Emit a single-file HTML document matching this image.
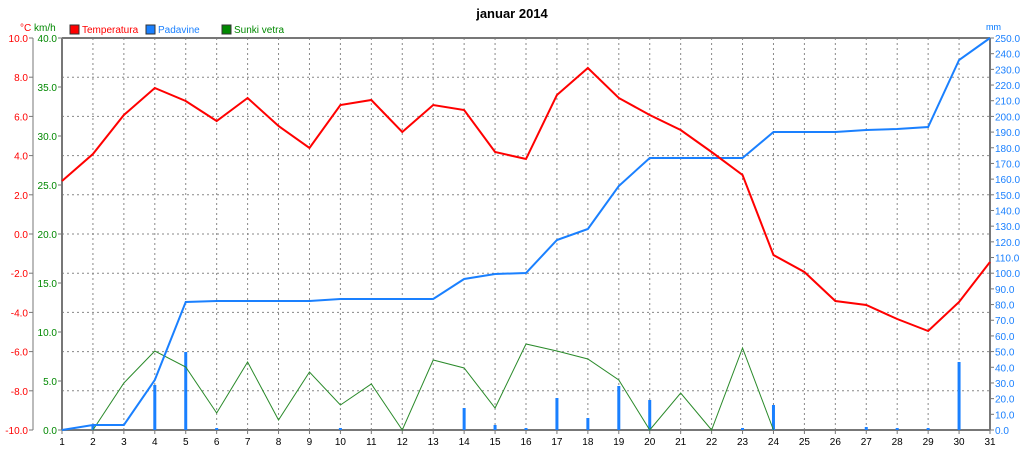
<!DOCTYPE html>
<html><head><meta charset="utf-8"><style>
html,body{margin:0;padding:0;background:#fff;}
svg{display:block;font-family:"Liberation Sans",Arial,sans-serif;}
</style></head><body>
<svg id="s" width="1024" height="454" xmlns="http://www.w3.org/2000/svg">
<text x="512" y="18" text-anchor="middle" font-size="13" font-weight="bold" fill="#000">januar 2014</text>
<text x="20" y="31" font-size="10" fill="#f00">°C</text>
<text x="34" y="31" font-size="10" fill="#080">km/h</text>
<text x="986" y="30" font-size="9" fill="#07f">mm</text>
<rect x="70" y="25" width="9" height="9" fill="#f00" stroke="#333"/>
<text x="82" y="33" font-size="10" fill="#f00">Temperatura</text>
<rect x="146" y="25" width="9" height="9" fill="#1a80ff" stroke="#333"/>
<text x="158" y="33" font-size="10" fill="#1a80ff">Padavine</text>
<rect x="222" y="25" width="9" height="9" fill="#080" stroke="#333"/>
<text x="234" y="33" font-size="10" fill="#080">Sunki vetra</text>
<g id="g"></g>
</svg>
<script>
const g=document.getElementById('g');let h='';
const X=d=>62+(d-1)*928/30;
for(let d=2;d<=30;d++){h+=`<line x1="${X(d)}" y1="38" x2="${X(d)}" y2="430" stroke="#888" stroke-dasharray="2,3"/>`;}
for(let i=1;i<10;i++){const y=38+i*39.2;h+=`<line x1="62" y1="${y}" x2="990" y2="${y}" stroke="#888" stroke-dasharray="2,3"/>`;}
for(let d=1;d<=31;d++){h+=`<line x1="${X(d)}" y1="430" x2="${X(d)}" y2="434" stroke="#777"/><text x="${X(d)}" y="445" font-size="10" text-anchor="middle">${d}</text>`;}
for(let i=0;i<=10;i++){const y=38+i*39.2;h+=`<line x1="29" y1="${y}" x2="33" y2="${y}" stroke="#777"/><text x="28" y="${y+4}" font-size="10" text-anchor="end" fill="#f00">${(10-2*i).toFixed(1)}</text>`;}
for(let i=0;i<=8;i++){const y=38+i*49;h+=`<line x1="58" y1="${y}" x2="62" y2="${y}" stroke="#777"/><text x="57" y="${y+4}" font-size="10" text-anchor="end" fill="#080">${(40-5*i).toFixed(1)}</text>`;}
for(let i=0;i<=25;i++){const y=38+i*15.68;h+=`<line x1="990" y1="${y}" x2="994" y2="${y}" stroke="#777"/><text x="995" y="${y+4}" font-size="10" fill="#1a80ff">${(250-10*i).toFixed(1)}</text>`;}
h+=`<line x1="33" y1="38" x2="33" y2="430" stroke="#777"/><line x1="62" y1="38" x2="62" y2="430" stroke="#777" stroke-width="2"/><line x1="990" y1="38" x2="990" y2="430" stroke="#777" stroke-width="2"/><line x1="62" y1="38" x2="990" y2="38" stroke="#777" stroke-width="2"/><line x1="62" y1="430" x2="990" y2="430" stroke="#777" stroke-width="2"/>`;
const bars={2:425,4:385,5:352,6:428,10:428,14:408,15:425,16:428,17:398,18:418,19:386,20:400,23:428,24:405,27:427,28:428,29:428,30:362};
for(const d in bars){h+=`<rect x="${X(+d)-1.5}" y="${bars[d]}" width="3" height="${430-bars[d]}" fill="#1a80ff"/>`;}
const wind=[null,430,383,351,367,413,362,420,372,405,384,430,360,368,408,344,351,359,380,430,393,430,348,430];
h+=`<polyline fill="none" stroke="#2a8a2a" stroke-width="1" points="${wind.map((v,i)=>v==null?'':X(i+1)+','+v).join(' ')}"/>`;
const pr=[430,425,425,380,302,301,301,301,301,299,299,299,299,279,274,273,240,229,186,158,158,158,158,132,132,132,130,129,127,60,38];
h+=`<polyline fill="none" stroke="#1a80ff" stroke-width="2" points="${pr.map((v,i)=>X(i+1)+','+v).join(' ')}"/>`;
const t=[181,154,115,88,101,121,98,126,148,105,100,132,105,110,152,159,95,68,98,115,130,152,175,255,272,301,305,319,331,302,262];
h+=`<polyline fill="none" stroke="#f00" stroke-width="2" points="${t.map((v,i)=>X(i+1)+','+v).join(' ')}"/>`;
g.innerHTML=h;
</script>
</body></html>
